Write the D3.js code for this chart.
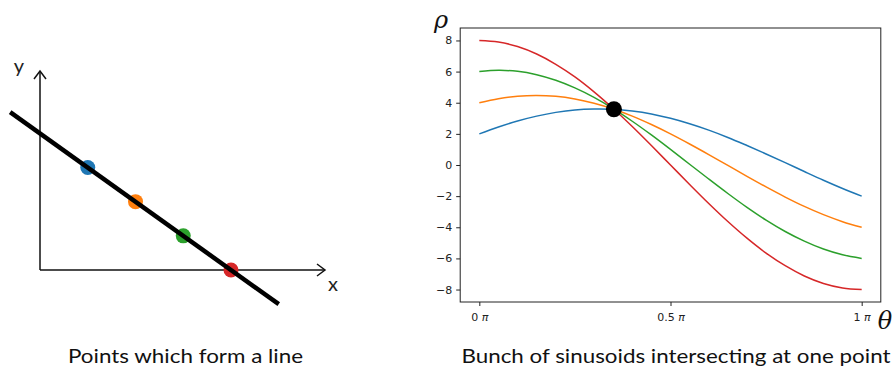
<!DOCTYPE html>
<html>
<head>
<meta charset="utf-8">
<script src="https://cdn.jsdelivr.net/npm/d3@7"></script>
<style>
  body { margin: 0; background: #fff; }
  svg { display: block; }
</style>
</head>
<body>
<svg id="chart" width="893" height="372"></svg>
<script>
// left panel: four points on one line
const pointX = [2, 4, 6, 8];
const pointY = [3, 2, 1, 0];
const lineX = [-1.25, 10];
const lineY = [4.62, -1];
const pointColors = ['#1f77b4', '#ff7f0e', '#2ca02c', '#d62728'];

// right panel: theta in units of pi, one rho series per point
const theta = [0, 0.05, 0.1, 0.15, 0.2, 0.25, 0.3, 0.35, 0.4, 0.45, 0.5,
  0.55, 0.6, 0.65, 0.7, 0.75, 0.8, 0.85, 0.9, 0.95, 1];
const rhoBlue = [2.00, 2.44, 2.83, 3.14, 3.38, 3.54, 3.60, 3.58, 3.47, 3.28, 3.00,
  2.65, 2.24, 1.77, 1.25, 0.71, 0.15, -0.42, -0.98, -1.51, -2.00];
const rhoOrange = [4.00, 4.26, 4.42, 4.47, 4.41, 4.24, 3.97, 3.60, 3.14, 2.60, 2.00,
  1.35, 0.67, -0.03, -0.73, -1.41, -2.06, -2.66, -3.19, -3.64, -4.00];
const rhoGreen = [6.00, 6.08, 6.02, 5.80, 5.44, 4.95, 4.34, 3.62, 2.81, 1.93, 1.00,
  0.05, -0.90, -1.83, -2.72, -3.54, -4.27, -4.89, -5.40, -5.77, -6.00];
const rhoRed = [8.00, 7.90, 7.61, 7.13, 6.47, 5.66, 4.70, 3.63, 2.47, 1.25, 0.00,
  -1.25, -2.47, -3.63, -4.70, -5.66, -6.47, -7.13, -7.61, -7.90, -8.00];
const crossTheta = 0.352;
const crossRho = 3.58;

const yTicks = [-8, -6, -4, -2, 0, 2, 4, 6, 8];
const xTicks = [0, 0.5, 1];
const captions = ['Points which form a line', 'Bunch of sinusoids intersecting at one point'];

const svg = d3.select('#chart');

// ---------- left panel ----------
const xL = d3.scaleLinear().domain([0, 8]).range([40, 231]);
const yL = d3.scaleLinear().domain([0, 3]).range([270, 167.5]);

const left = svg.append('g');
const axisColor = '#111';

// axes with open arrow heads
left.append('line')
  .attr('x1', xL(0)).attr('y1', yL(0))
  .attr('x2', 325).attr('y2', yL(0))
  .attr('stroke', axisColor).attr('stroke-width', 1.5);
left.append('path')
  .attr('d', `M317,${yL(0) - 6}L325,${yL(0)}L317,${yL(0) + 6}`)
  .attr('fill', 'none').attr('stroke', axisColor).attr('stroke-width', 1.5);

left.append('line')
  .attr('x1', xL(0)).attr('y1', yL(0))
  .attr('x2', xL(0)).attr('y2', 71)
  .attr('stroke', axisColor).attr('stroke-width', 1.5);
left.append('path')
  .attr('d', `M${xL(0) - 6},79L${xL(0)},71L${xL(0) + 6},79`)
  .attr('fill', 'none').attr('stroke', axisColor).attr('stroke-width', 1.5);

left.append('text')
  .attr('x', 19).attr('y', 73)
  .attr('text-anchor', 'middle')
  .style('font-family', 'Lato, sans-serif').style('font-size', '20px')
  .style('fill', '#222')
  .text('y');
left.append('text')
  .attr('x', 333).attr('y', 291)
  .attr('text-anchor', 'middle')
  .style('font-family', 'Lato, sans-serif').style('font-size', '20px')
  .style('fill', '#222')
  .text('x');

// points first, thick line on top
left.selectAll('circle')
  .data(pointX)
  .join('circle')
  .attr('cx', d => xL(d))
  .attr('cy', (d, i) => yL(pointY[i]))
  .attr('r', 7.5)
  .attr('fill', (d, i) => pointColors[i]);

left.append('line')
  .attr('x1', xL(lineX[0])).attr('y1', yL(lineY[0]))
  .attr('x2', xL(lineX[1])).attr('y2', yL(lineY[1]))
  .attr('stroke', '#000').attr('stroke-width', 4.5)
  .attr('stroke-linecap', 'butt');

// ---------- right panel ----------
const frame = { left: 460.2, right: 880.8, top: 28, bottom: 302 };
const x = d3.scaleLinear().domain([-0.05, 1.05]).range([frame.left, frame.right]);
const y = d3.scaleLinear().domain([-8.8, 8.8]).range([frame.bottom, frame.top]);

const right = svg.append('g');

const series = [rhoBlue, rhoOrange, rhoGreen, rhoRed];
const line = d3.line()
  .x((d, i) => x(theta[i]))
  .y(d => y(d))
  .curve(d3.curveCatmullRom);

right.selectAll('path.curve')
  .data(series)
  .join('path')
  .attr('class', 'curve')
  .attr('d', d => line(d))
  .attr('fill', 'none')
  .attr('stroke', (d, i) => pointColors[i])
  .attr('stroke-width', 1.5);

right.append('circle')
  .attr('cx', x(crossTheta))
  .attr('cy', y(crossRho))
  .attr('r', 8)
  .attr('fill', '#000');

right.append('rect')
  .attr('x', frame.left).attr('y', frame.top)
  .attr('width', frame.right - frame.left)
  .attr('height', frame.bottom - frame.top)
  .attr('fill', 'none').attr('stroke', '#222').attr('stroke-width', 1);

const yAxis = right.append('g')
  .attr('transform', `translate(${frame.left},0)`)
  .call(d3.axisLeft(y).tickValues(yTicks).tickSize(4).tickPadding(4)
    .tickFormat(d => d < 0 ? '\u2212' + Math.abs(d) : d));
yAxis.select('.domain').remove();
yAxis.selectAll('line').attr('stroke', '#222');
yAxis.selectAll('text')
  .style('font-family', '"DejaVu Sans", sans-serif')
  .style('font-size', '11px')
  .style('fill', '#222');

const xAxis = right.append('g')
  .attr('transform', `translate(0,${frame.bottom})`)
  .call(d3.axisBottom(x).tickValues(xTicks).tickSize(4).tickPadding(6).tickFormat(''));
xAxis.select('.domain').remove();
xAxis.selectAll('line').attr('stroke', '#222');
const xLabel = xAxis.selectAll('.tick').append('text')
  .attr('y', 19)
  .attr('text-anchor', 'middle')
  .style('font-family', '"DejaVu Sans", sans-serif')
  .style('font-size', '11px')
  .style('fill', '#222');
xLabel.append('tspan').text(d => d + ' ');
xLabel.append('tspan').style('font-style', 'italic').text('\u03c0');

right.append('text')
  .attr('x', 441).attr('y', 28)
  .attr('text-anchor', 'middle')
  .style('font-family', '"DejaVu Serif", serif')
  .style('font-style', 'italic')
  .style('font-size', '24px')
  .style('fill', '#111')
  .text('\u03c1');
right.append('text')
  .attr('x', 885).attr('y', 329)
  .attr('text-anchor', 'middle')
  .style('font-family', '"DejaVu Serif", serif')
  .style('font-style', 'italic')
  .style('font-size', '24px')
  .style('fill', '#111')
  .text('\u03b8');

// ---------- captions ----------
svg.selectAll('text.caption')
  .data(captions)
  .join('text')
  .attr('class', 'caption')
  .attr('x', (d, i) => i === 0 ? 68 : 461.5)
  .attr('y', 363)
  .attr('textLength', (d, i) => i === 0 ? 235 : 429)
  .attr('lengthAdjust', 'spacingAndGlyphs')
  .style('font-family', 'Lato, sans-serif')
  .style('font-size', '20px')
  .style('fill', '#111')
  .text(d => d);
</script>
</body>
</html>
